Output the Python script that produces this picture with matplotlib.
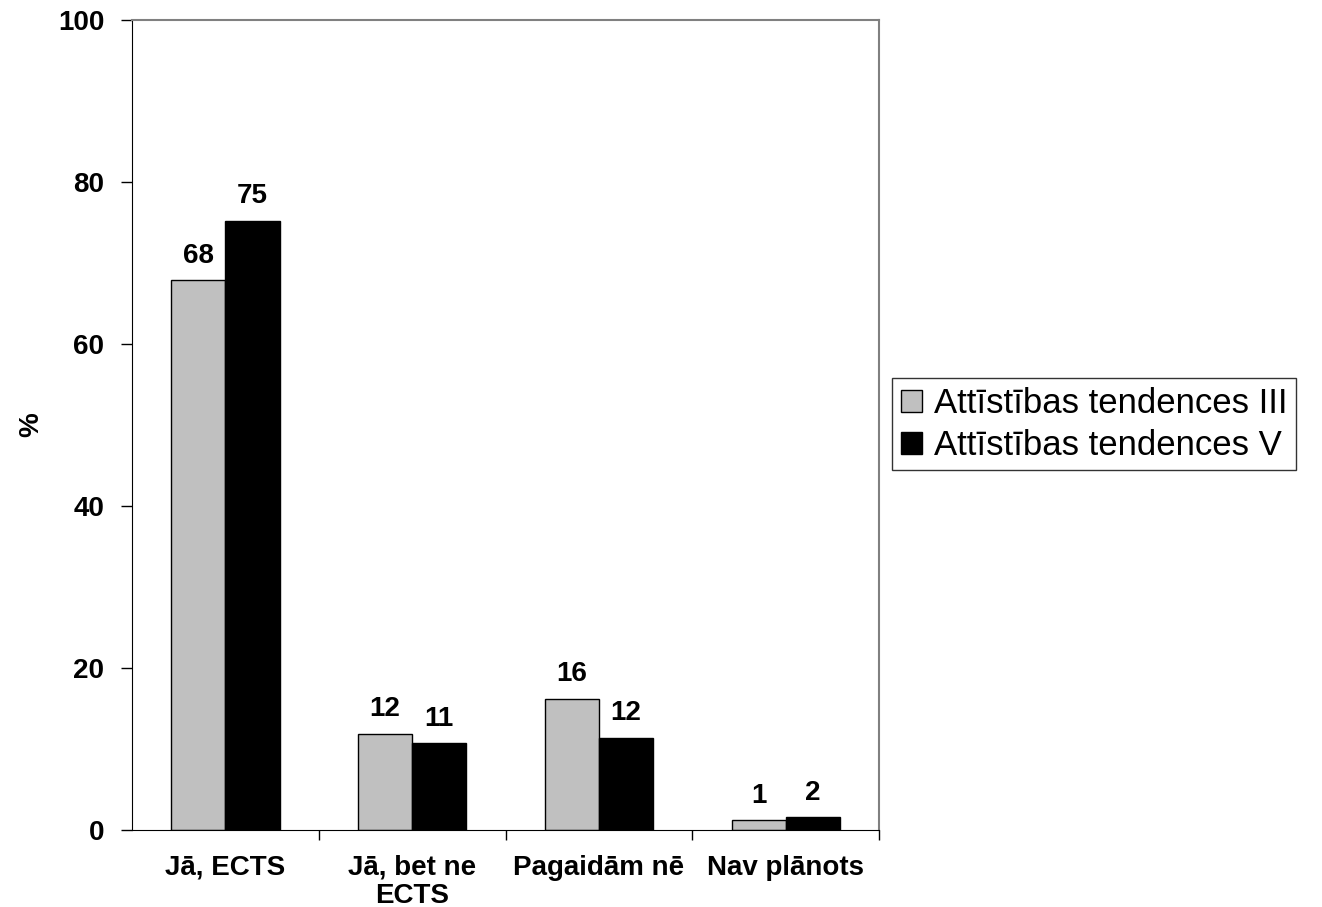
import numpy as np
import matplotlib
matplotlib.use("Agg")
import matplotlib.pyplot as plt

plt.rcParams['font.family'] = ['Liberation Sans', 'DejaVu Sans']

categories = ['Jā, ECTS', 'Jā, bet ne\nECTS', 'Pagaidām nē', 'Nav plānots']
series_names = ['Attīstības tendences III', 'Attīstības tendences V']
values_iii = [67.9, 11.9, 16.2, 1.2]
values_v = [75.2, 10.7, 11.4, 1.6]
labels_iii = ['68', '12', '16', '1']
labels_v = ['75', '11', '12', '2']

fig = plt.figure(figsize=(13.22, 9.07), dpi=100)
ax = fig.add_axes([0.0998, 0.085, 0.5652, 0.893])

x = np.arange(len(categories))
w = 0.29
b1 = ax.bar(x - w / 2, values_iii, w, color='#c0c0c0', edgecolor='black', linewidth=1, label=series_names[0])
b2 = ax.bar(x + w / 2, values_v, w, color='black', edgecolor='black', linewidth=1, label=series_names[1])

for bars, labs in ((b1, labels_iii), (b2, labels_v)):
    for r, t in zip(bars, labs):
        ax.text(r.get_x() + r.get_width() / 2, r.get_height() + 1.4, t,
                ha='center', va='bottom', fontsize=20, fontweight='bold')

ax.set_xlim(-0.5, 3.5)
ax.set_ylim(0, 100)
ax.set_yticks([0, 20, 40, 60, 80, 100])
ax.tick_params(axis='y', labelsize=20, length=8, width=1, direction='out', pad=12)
for t in ax.get_yticklabels():
    t.set_fontweight('bold')

ax.set_xticks(x)
ax.set_xticklabels(categories, fontsize=20, fontweight='bold', linespacing=1.08, va='top')
ax.tick_params(axis='x', length=0, pad=18)
ax.set_xticks([0.5, 1.5, 2.5, 3.5], minor=True)
ax.tick_params(axis='x', which='minor', length=7, width=1, direction='out')

ax.spines['left'].set_color('black')
ax.spines['bottom'].set_color('black')
ax.spines['top'].set_color('#808080')
ax.spines['right'].set_color('#808080')
ax.spines['top'].set_linewidth(1.5)
ax.spines['right'].set_linewidth(1.5)

fig.text(0.024, 0.532, '%', rotation=90, ha='center', va='center',
         fontsize=20, fontweight='bold')

leg = fig.legend(handles=[b1, b2], labels=series_names, loc='center left',
                 bbox_to_anchor=(0.675, 0.532), fontsize=25, frameon=True,
                 fancybox=False, edgecolor='black', handlelength=0.6,
                 handleheight=0.6, handletextpad=0.35, borderpad=0.25,
                 labelspacing=0.25, borderaxespad=0)
leg.get_frame().set_linewidth(1)

fig.savefig('out.png', dpi=100)
